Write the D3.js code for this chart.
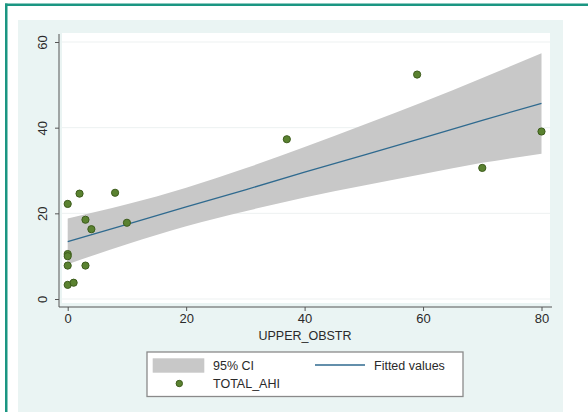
<!doctype html>
<html lang="en">
<head>
  <meta charset="utf-8" />
  <title>TOTAL_AHI vs UPPER_OBSTR</title>
  <script src="https://d3js.org/d3.v7.min.js"></script>
  <style>
    body { margin: 0; background: #fff; }
    text { font-family: "Liberation Sans", Arial, sans-serif; fill: #2a2a2a; }
  </style>
</head>
<body>
  <div id="chart"></div>
  <script>
    // observed points
    const upperObstr = [0, 2, 8, 3, 4, 10, 0, 0, 0, 3, 0, 1, 59, 37, 70, 80];
    const totalAhi = [22.2, 24.6, 24.8, 18.5, 16.3, 17.8, 10.5, 10.0, 7.8, 7.8, 3.3, 3.8, 52.4, 37.3, 30.6, 39.1];

    // fitted line and 95% CI
    const fitX = [0, 10, 20, 30, 40, 50, 60, 70, 80];
    const fitted = [13.4, 17.4, 21.5, 25.5, 29.6, 33.6, 37.6, 41.7, 45.7];
    const ciLow = [8.1, 12.8, 17.0, 20.5, 23.7, 26.5, 29.2, 31.8, 33.9];
    const ciHigh = [18.8, 22.1, 26.0, 30.5, 35.5, 40.7, 46.0, 51.6, 57.4];

    const xTicks = [0, 20, 40, 60, 80];
    const yTicks = [0, 20, 40, 60];

    const width = 588, height = 412;

    const svg = d3.select("#chart")
      .append("svg")
      .attr("width", width)
      .attr("height", height);

    // outer frame
    svg.append("rect").attr("x", 5).attr("y", 3.5).attr("width", 2.5).attr("height", height).attr("fill", "#1b9682");
    svg.append("rect").attr("x", 5).attr("y", 3.5).attr("width", width).attr("height", 2.5).attr("fill", "#1b9682");

    // graph region background
    svg.append("rect")
      .attr("x", 18).attr("y", 20)
      .attr("width", 545).attr("height", height - 20)
      .attr("fill", "#eaf4f3");

    const x = d3.scaleLinear().domain([0, 80]).range([67.7, 541.5]);
    const y = d3.scaleLinear().domain([0, 60]).range([299, 42]);

    // plot region
    svg.append("rect")
      .attr("x", 62).attr("y", 33)
      .attr("width", 488).attr("height", 270)
      .attr("fill", "#ffffff");

    // grid
    svg.append("g")
      .selectAll("line")
      .data(yTicks)
      .join("line")
      .attr("x1", 62).attr("x2", 550)
      .attr("y1", d => y(d)).attr("y2", d => y(d))
      .attr("stroke", "#edf1f1")
      .attr("stroke-width", 1);

    // CI band
    const band = d3.area()
      .x((d, i) => x(fitX[i]))
      .y0((d, i) => y(ciLow[i]))
      .y1((d, i) => y(ciHigh[i]))
      .curve(d3.curveMonotoneX);

    svg.append("path")
      .datum(fitX)
      .attr("d", band)
      .attr("fill", "#c8c8c8");

    // fitted values
    const line = d3.line()
      .x((d, i) => x(fitX[i]))
      .y((d, i) => y(fitted[i]));

    svg.append("path")
      .datum(fitX)
      .attr("d", line)
      .attr("fill", "none")
      .attr("stroke", "#2f6a8f")
      .attr("stroke-width", 1.3);

    // points
    svg.append("g")
      .selectAll("circle")
      .data(upperObstr)
      .join("circle")
      .attr("cx", d => x(d))
      .attr("cy", (d, i) => y(totalAhi[i]))
      .attr("r", 3.6)
      .attr("fill", "#5a8230")
      .attr("stroke", "#3d5c1c")
      .attr("stroke-width", 1);

    // axes
    const xAxis = svg.append("g")
      .attr("transform", "translate(0,307)")
      .call(d3.axisBottom(x).tickValues(xTicks).tickSize(4).tickPadding(3));
    xAxis.select(".domain").attr("d", "M59,0H552").attr("stroke", "#555");
    xAxis.selectAll(".tick line").attr("stroke", "#555");
    xAxis.selectAll(".tick text")
      .style("font-size", "13px")
      .style("font-family", "Liberation Sans, Arial, sans-serif")
      .attr("fill", "#2a2a2a");

    const yAxis = svg.append("g")
      .attr("transform", "translate(59,0)")
      .call(d3.axisLeft(y).tickValues(yTicks).tickSize(4).tickPadding(3));
    yAxis.select(".domain").attr("d", "M0,34V307").attr("stroke", "#555");
    yAxis.selectAll(".tick line").attr("stroke", "#555");
    yAxis.selectAll(".tick text")
      .attr("x", -17).attr("dy", 0)
      .attr("transform", "rotate(-90,-17,0)")
      .attr("text-anchor", "middle")
      .attr("dominant-baseline", "central")
      .style("font-size", "13px")
      .style("font-family", "Liberation Sans, Arial, sans-serif")
      .attr("fill", "#2a2a2a");

    svg.append("text")
      .attr("x", 305).attr("y", 340)
      .attr("text-anchor", "middle")
      .style("font-size", "12.5px")
      .text("UPPER_OBSTR");

    // legend
    const lg = svg.append("g");
    lg.append("rect")
      .attr("x", 147).attr("y", 352)
      .attr("width", 316).attr("height", 44.5)
      .attr("fill", "#ffffff")
      .attr("stroke", "#8a8a8a")
      .attr("stroke-width", 1.3);
    lg.append("rect")
      .attr("x", 152.7).attr("y", 358.3)
      .attr("width", 51.6).attr("height", 14.4)
      .attr("fill", "#c8c8c8");
    lg.append("text").attr("x", 213).attr("y", 370).style("font-size", "12.5px").text("95% CI");
    lg.append("line")
      .attr("x1", 315).attr("x2", 365)
      .attr("y1", 365).attr("y2", 365)
      .attr("stroke", "#2f6a8f").attr("stroke-width", 1.3);
    lg.append("text").attr("x", 374).attr("y", 370).style("font-size", "12.5px").text("Fitted values");
    lg.append("circle")
      .attr("cx", 179.3).attr("cy", 383.5).attr("r", 3.2)
      .attr("fill", "#5a8230").attr("stroke", "#3d5c1c");
    lg.append("text").attr("x", 213).attr("y", 388).style("font-size", "12.5px").text("TOTAL_AHI");
  </script>
</body>
</html>
